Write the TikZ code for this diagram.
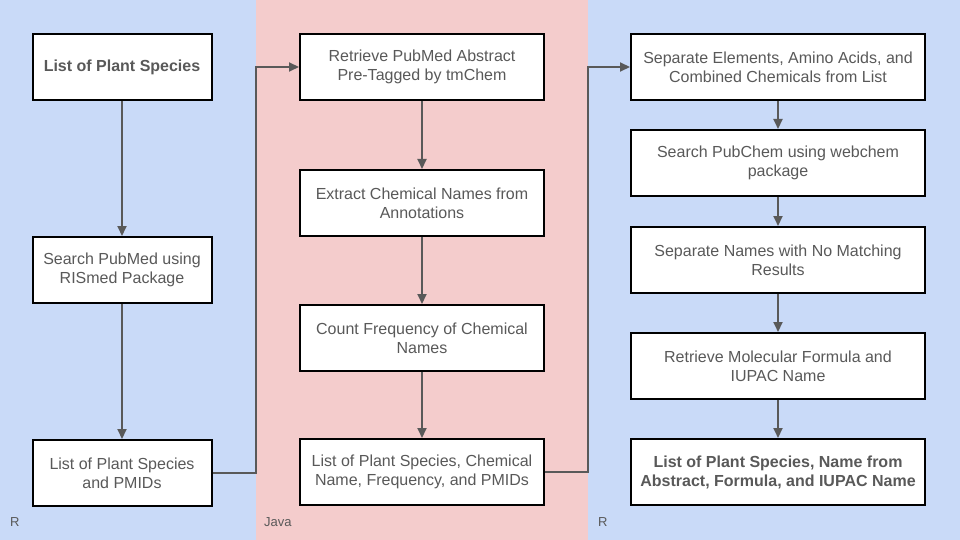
\documentclass[tikz,border=0pt]{standalone}
\usepackage{fontspec}
\setmainfont{Liberation Sans}
\usetikzlibrary{positioning,arrows.meta}
\definecolor{bgblue}{HTML}{C9DAF8}
\definecolor{bgpink}{HTML}{F4CCCC}
\definecolor{txtgray}{HTML}{595959}
\tikzset{
    stepnode/.style={ % plain process box
        draw=black,
        line width=2pt,
        fill=white,
        align=center,
        text=txtgray,
        minimum height=66pt,
        inner sep=2pt,
        font=\fontsize{16}{19}\selectfont
    },
    keynode/.style={ % bold start and end boxes
        stepnode,
        font=\fontsize{16}{19}\selectfont\bfseries
    },
    flow/.style={
        draw=txtgray,
        line width=2pt,
        -{Triangle[length=10pt,width=9pt]}
    },
    langlabel/.style={
        anchor=west,
        inner sep=0pt,
        text=txtgray,
        font=\fontsize{13}{15}\selectfont
    }
}

\begin{document}
\begin{tikzpicture}[x=1pt,y=-1pt]
        \useasboundingbox (0,0) rectangle (960,540);
        \fill[bgblue] (0,0) rectangle (256,540);
        \fill[bgpink] (256,0) rectangle (588,540);
        \fill[bgblue] (588,0) rectangle (960,540);
        \coordinate (colA) at (256,0);
        \coordinate (colB) at (588,0);
        
        % R, first step
        \node[keynode, minimum width=179pt] (L1) at (122,67) {List of Plant Species};
        \node[stepnode, minimum width=179pt, below = 135pt of L1] (L2) {Search PubMed using\\RISmed Package};
        \node[stepnode, minimum width=179pt, below = 135pt of L2] (L3) {List of Plant Species\\and PMIDs};
        
        % Java
        \node[stepnode, minimum width=244pt] (M1) at (422,67) {Retrieve PubMed Abstract\\Pre-Tagged by tmChem};
        \node[stepnode, minimum width=244pt, below = 68pt of M1] (M2) {Extract Chemical Names from\\Annotations};
        \node[stepnode, minimum width=244pt, below = 67pt of M2] (M3) {Count Frequency of Chemical\\Names};
        \node[stepnode, minimum width=244pt, below = 66pt of M3] (M4) {List of Plant Species, Chemical\\Name, Frequency, and PMIDs};
        
        % R, second step
        \node[stepnode, minimum width=294pt] (R1) at (778,67) {Separate Elements, Amino Acids, and\\Combined Chemicals from List};
        \node[stepnode, minimum width=294pt, below = 28pt of R1] (R2) {Search PubChem using webchem\\package};
        \node[stepnode, minimum width=294pt, below = 29pt of R2] (R3) {Separate Names with No Matching\\Results};
        \node[stepnode, minimum width=294pt, below = 38pt of R3] (R4) {Retrieve Molecular Formula and\\IUPAC Name};
        \node[keynode, minimum width=294pt, below = 38pt of R4] (R5) {List of Plant Species, Name from\\Abstract, Formula, and IUPAC Name};
        
        \draw[flow] (L1) -- (L2);
        \draw[flow] (L2) -- (L3);
        \draw[flow] (L3.east) -- (L3.east -| colA) |- (M1.west);
        \draw[flow] (M1) -- (M2);
        \draw[flow] (M2) -- (M3);
        \draw[flow] (M3) -- (M4);
        \draw[flow] (M4.east) -- (M4.east -| colB) |- (R1.west);
        \draw[flow] (R1) -- (R2);
        \draw[flow] (R2) -- (R3);
        \draw[flow] (R3) -- (R4);
        \draw[flow] (R4) -- (R5);
        
        \node[langlabel] (langL) at (10,522) {R};
        \node[langlabel] (langM) at (264,522) {Java};
        \node[langlabel] (langR) at (598,522) {R};
    \end{tikzpicture}
\end{document}
